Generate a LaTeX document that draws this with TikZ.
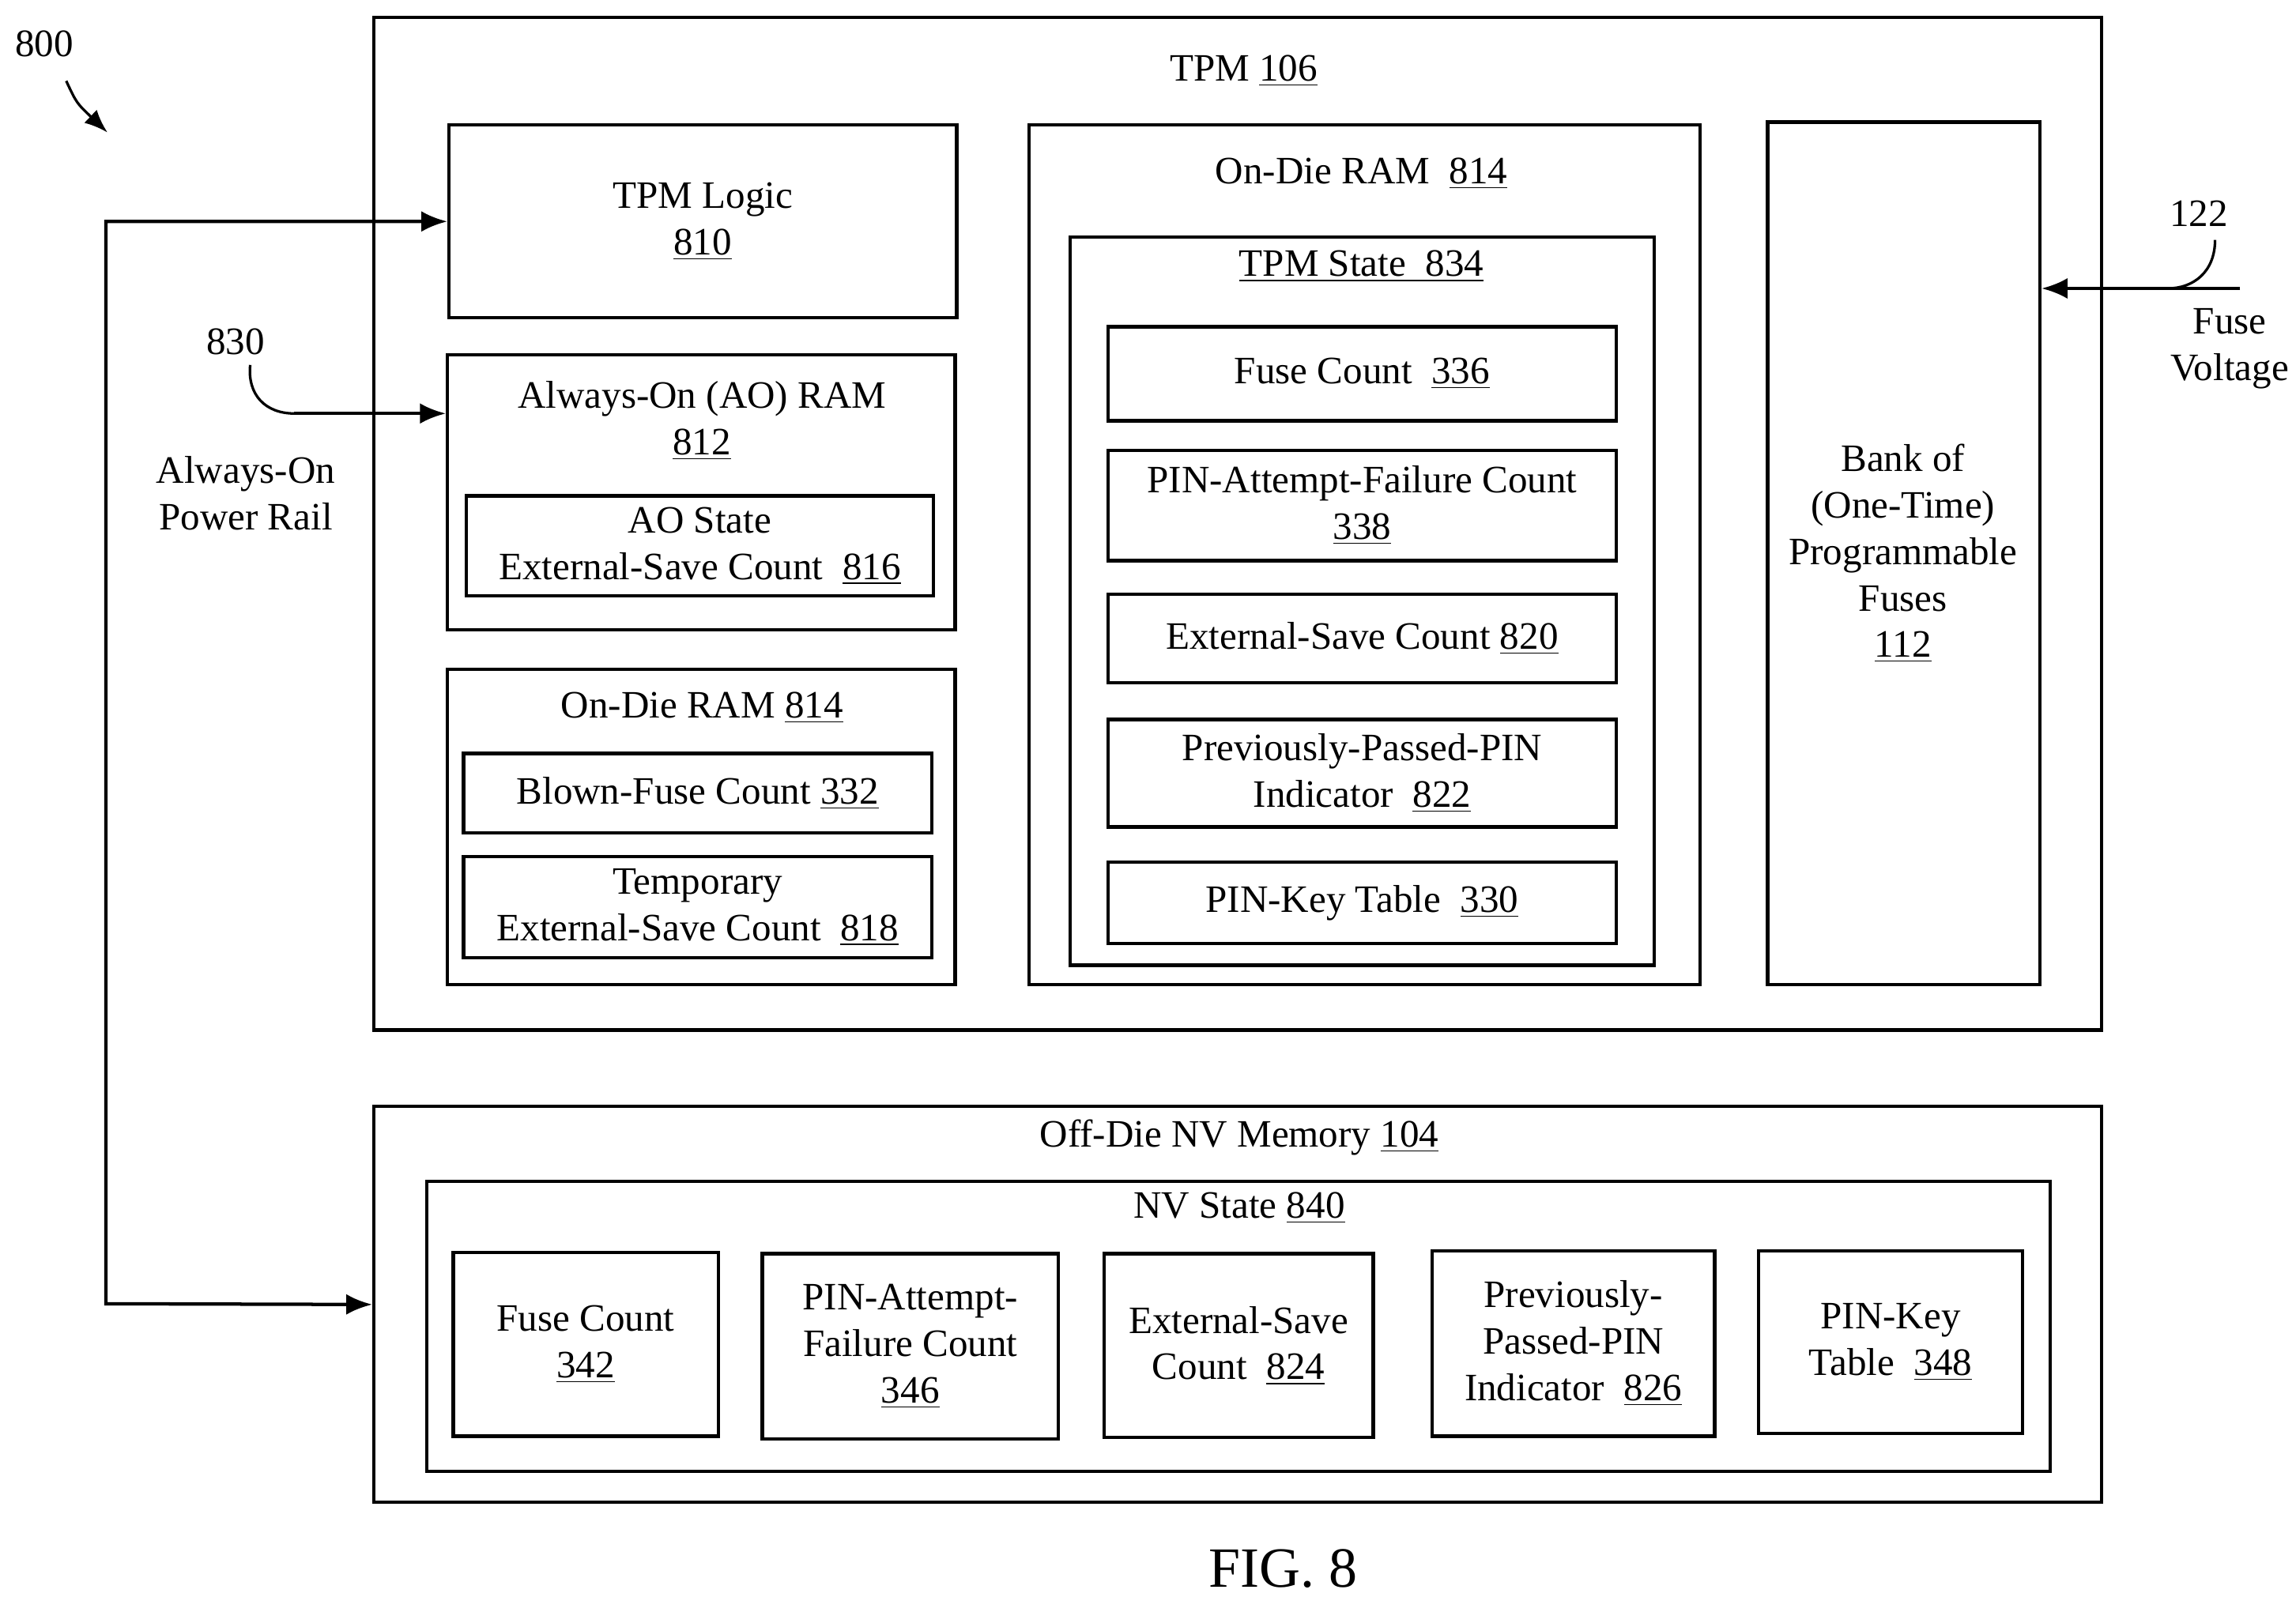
\documentclass[tikz,border=0pt]{standalone}
\usepackage{fontspec}
\setmainfont{Liberation Serif}
\usetikzlibrary{fit,arrows.meta}
\newcommand{\ul}[1]{\underline{#1}}
\tikzset{box/.style={draw,line width=1.3pt,inner sep=0pt},
         lbl/.style={align=center,font=\fontsize{15}{18}\selectfont,inner sep=1pt},
         arr/.style={line width=1.3pt,-{Latex[length=10pt,width=8pt]}}}
\begin{document}
\begin{tikzpicture}[x=0.02cm,y=-0.02cm]
        \useasboundingbox (0,0) rectangle (1560,1085);
        % TPM
        \node[box,fit={(254,12)(1428,700)}] (tpm) {};
        \node[lbl] (tpmT) at (845,48) {TPM \ul{106}};
        \node[box,fit={(305,85)(650,216)}] (logic) {};
        \node[lbl] (logicT) at (logic) {TPM Logic\\\ul{810}};
        \node[box,fit={(304,241)(649,428)}] (aoram) {};
        \node[lbl] (aoramT) at (477,286) {Always-On (AO) RAM\\\ul{812}};
        \node[box,fit={(317,337)(634,405)}] (aostate) {};
        \node[lbl] (aostateT) at (aostate) {AO State\\External-Save Count \ \ul{816}};
        \node[box,fit={(304,455)(649,669)}] (odram) {};
        \node[lbl] (odramT) at (477,481) {On-Die RAM \ul{814}};
        \node[box,fit={(315,512)(633,566)}] (blown) {};
        \node[lbl] (blownT) at (blown) {Blown-Fuse Count \ul{332}};
        \node[box,fit={(315,582)(633,651)}] (tmpsave) {};
        \node[lbl] (tmpsaveT) at (tmpsave) {Temporary\\External-Save Count \ \ul{818}};
        \node[box,fit={(699,85)(1155,669)}] (odram2) {};
        \node[lbl] (odram2T) at (925,118) {On-Die RAM \ \ul{814}};
        \node[box,fit={(727,161)(1124,656)}] (state) {};
        \node[lbl] (stateT) at (925,181) {\ul{TPM State \ 834}};
        \node[box,fit={(753,222)(1098,286)}] (fuse) {};
        \node[lbl] (fuseT) at (fuse) {Fuse Count \ \ul{336}};
        \node[box,fit={(753,306)(1098,381)}] (pinfail) {};
        \node[lbl] (pinfailT) at (pinfail) {PIN-Attempt-Failure Count\\\ul{338}};
        \node[box,fit={(753,404)(1098,464)}] (extsave) {};
        \node[lbl] (extsaveT) at (extsave) {External-Save Count \ul{820}};
        \node[box,fit={(753,489)(1098,562)}] (prev) {};
        \node[lbl] (prevT) at (prev) {Previously-Passed-PIN\\Indicator \ \ul{822}};
        \node[box,fit={(753,586)(1098,641)}] (pinkey) {};
        \node[lbl] (pinkeyT) at (pinkey) {PIN-Key Table \ \ul{330}};
        \node[box,fit={(1201,83)(1386,669)}] (bank) {};
        \node[lbl] (bankT) at (1293,376) {Bank of\\(One-Time)\\Programmable\\Fuses\\\ul{112}};
        % Off-die
        \node[box,fit={(254,752)(1428,1021)}] (offdie) {};
        \node[lbl] (offdieT) at (842,773) {Off-Die NV Memory \ul{104}};
        \node[box,fit={(290,803)(1393,1000)}] (nv) {};
        \node[lbl] (nvT) at (842,821) {NV State \ul{840}};
        \node[box,fit={(308,851)(488,976)}] (nvfuse) {};
        \node[lbl] at (nvfuse) {Fuse Count\\\ul{342}};
        \node[box,fit={(518,852)(719,978)}] (nvpin) {};
        \node[lbl] at (nvpin) {PIN-Attempt-\\Failure Count\\\ul{346}};
        \node[box,fit={(750,852)(933,977)}] (nvext) {};
        \node[lbl] at (nvext) {External-Save\\Count \ \ul{824}};
        \node[box,fit={(973,850)(1165,976)}] (nvprev) {};
        \node[lbl] at (nvprev) {Previously-\\Passed-PIN\\Indicator \ \ul{826}};
        \node[box,fit={(1195,850)(1374,974)}] (nvkey) {};
        \node[lbl] at (nvkey) {PIN-Key\\Table \ \ul{348}};
        % connectors
        \coordinate (railbot) at (72,886);
        \draw[arr,{Latex[length=10pt,width=8pt]}-{Latex[length=10pt,width=8pt]}] (logic.west) -| (railbot) -- (offdie.west);
        \coordinate (aoin) at (200,281);
        \draw[arr] (aoin) -- (aoram.west |- aoin);
        \node[lbl] (n830) at (160,232) {830};
        \draw[line width=1pt] (170,248) .. controls (168,268) and (180,281) .. (aoin);
        \node[lbl] (aorail) at (167,335) {Always-On\\Power Rail};
        \coordinate (fusein) at (1522,196);
        \draw[arr] (fusein) -- (bank.east |- fusein);
        \node[lbl] (n122) at (1494,145) {122};
        \draw[line width=1pt] (1505,163) .. controls (1505,185) and (1490,196) .. (1473,196);
        \node[lbl] (fusev) at (1515,237) {Fuse\\Voltage};
        \node[lbl] (n800) at (30,30) {800};
        \draw[line width=1pt,-{Latex[length=9pt,width=7pt]}] (45,55) .. controls (52,70) .. (73,90);
        \node[font=\fontsize{22}{26}\selectfont] (fig) at (872,1066) {FIG. 8};
\end{tikzpicture}
\end{document}
